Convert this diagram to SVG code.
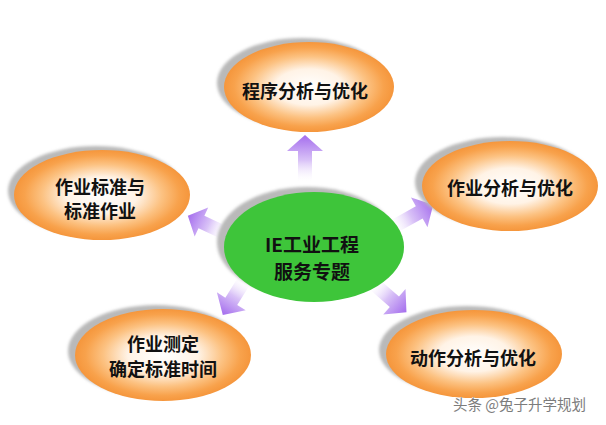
<svg xmlns="http://www.w3.org/2000/svg" width="606" height="425" viewBox="0 0 606 425">
<defs>
<radialGradient id="org" cx="0.5" cy="0.5" r="0.5">
<stop offset="0" stop-color="#ffffff"/>
<stop offset="0.4" stop-color="#fff3e6"/>
<stop offset="0.68" stop-color="#fcc282"/>
<stop offset="0.88" stop-color="#f8a24c"/>
<stop offset="1" stop-color="#f5963c"/>
</radialGradient>
<linearGradient id="arr" x1="0" y1="0" x2="1" y2="0">
<stop offset="0" stop-color="#ffffff" stop-opacity="0.2"/>
<stop offset="0.45" stop-color="#d9c2f7"/>
<stop offset="1" stop-color="#a46ded"/>
</linearGradient>
<filter id="blur" x="-10%" y="-10%" width="120%" height="120%">
<feGaussianBlur stdDeviation="1.5"/>
</filter>
</defs>
<style>
.sh{fill:#b9b9b9;filter:url(#blur)}
.or{fill:url(#org)}
.gr{fill:#3ec53a}
.t{font-family:"Noto Sans CJK SC","Noto Sans",sans-serif;font-weight:bold;font-size:18px;fill:#111;text-anchor:middle;dominant-baseline:central}
.tc{font-size:19px}
.wm{font-family:"Noto Sans CJK SC","Noto Sans",sans-serif;font-size:14.5px;fill:#7c7c7c;stroke:#ffffff;stroke-width:0.6;paint-order:stroke}
.a{fill:url(#arr)}
</style>
<rect width="606" height="425" fill="#ffffff"/>
<g id="connectors">
<path class="a" transform="translate(305,181) rotate(-90)" d="M0,-7 L30,-7 L30,-18 L46,0 L30,18 L30,7 L0,7 Z"/>
<path class="a" transform="translate(225,233) rotate(-155)" d="M0,-7 L26,-7 L26,-16 L41,0 L26,16 L26,7 L0,7 Z"/>
<path class="a" transform="translate(393,227) rotate(-29)" d="M0,-7 L30,-7 L30,-17 L46,0 L30,17 L30,7 L0,7 Z"/>
<path class="a" transform="translate(244,281) rotate(122)" d="M0,-7 L24,-7 L24,-17 L40,0 L24,17 L24,7 L0,7 Z"/>
<path class="a" transform="translate(374,284) rotate(41)" d="M0,-7 L27,-7 L27,-17 L43,0 L27,17 L27,7 L0,7 Z"/>
</g>
<g id="node-top">
<ellipse class="sh" cx="302" cy="83" rx="85" ry="45"/>
<ellipse class="or" cx="309" cy="87" rx="85" ry="45"/>
<text class="t" x="305" y="90">程序分析与优化</text>
</g>
<g id="node-left">
<ellipse class="sh" cx="96" cy="191" rx="88" ry="45"/>
<ellipse class="or" cx="102" cy="195" rx="88" ry="45"/>
<text class="t" x="100" y="186">作业标准与</text>
<text class="t" x="100" y="210">标准作业</text>
</g>
<g id="node-right">
<ellipse class="sh" cx="503" cy="182" rx="88" ry="45"/>
<ellipse class="or" cx="510" cy="186" rx="88" ry="45"/>
<text class="t" x="510" y="187">作业分析与优化</text>
</g>
<g id="node-bottom-left">
<ellipse class="sh" cx="156" cy="351" rx="88" ry="46"/>
<ellipse class="or" cx="163" cy="355" rx="88" ry="46"/>
<text class="t" x="163" y="343">作业测定</text>
<text class="t" x="163" y="368">确定标准时间</text>
</g>
<g id="node-bottom-right">
<ellipse class="sh" cx="467" cy="350" rx="88" ry="44"/>
<ellipse class="or" cx="474" cy="354" rx="88" ry="44"/>
<text class="t" x="473" y="357">动作分析与优化</text>
</g>
<g id="node-center">
<ellipse class="sh" cx="307" cy="242" rx="90" ry="55"/>
<ellipse class="gr" cx="314" cy="247" rx="90" ry="55"/>
<text class="t tc" x="312" y="243">IE工业工程</text>
<text class="t tc" x="312" y="270">服务专题</text>
</g>
<text class="wm" x="453" y="410">头条 @兔子升学规划</text>
</svg>
